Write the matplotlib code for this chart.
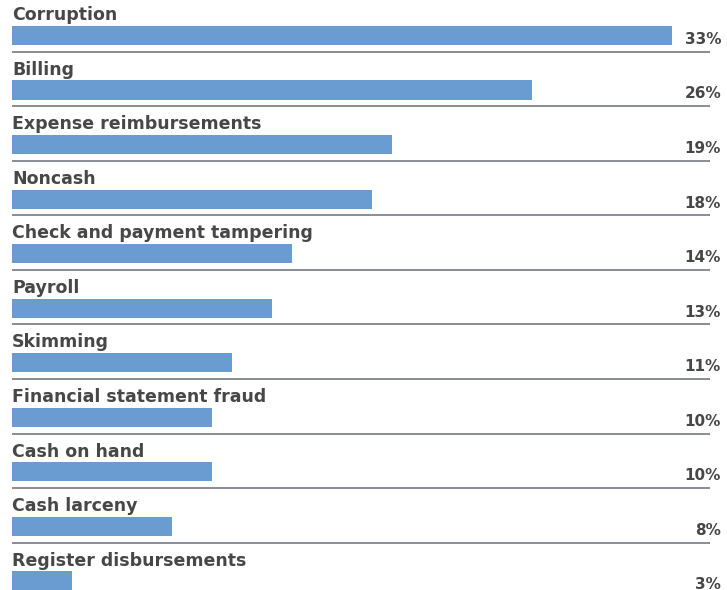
import matplotlib.pyplot as plt

categories = ['Corruption', 'Billing', 'Expense reimbursements', 'Noncash',
              'Check and payment tampering', 'Payroll', 'Skimming',
              'Financial statement fraud', 'Cash on hand', 'Cash larceny',
              'Register disbursements']
values = [33, 26, 19, 18, 14, 13, 11, 10, 10, 8, 3]

BAR_COLOR = '#6a9bd1'
TEXT_COLOR = '#474747'
LINE_COLOR = '#8a8c96'

plt.rcParams['font.family'] = ['DejaVu Sans']

fig = plt.figure(figsize=(7.27, 5.9), dpi=100)
ax = fig.add_axes([0, 0, 1, 1])

ypos = list(range(len(categories)))
ax.barh(ypos, values, height=0.35, left=0, color=BAR_COLOR)

for i, (name, v) in enumerate(zip(categories, values)):
    ax.text(0, i - 0.37, name, ha='left', va='center', fontsize=12.5,
            fontweight='bold', color=TEXT_COLOR)
    ax.text(35.45, i + 0.21, f'{v}%', ha='right', va='bottom', fontsize=11,
            fontweight='bold', color=TEXT_COLOR)
    ax.plot([0, 34.9], [i + 0.30, i + 0.30], color=LINE_COLOR, linewidth=1.4,
            solid_capstyle='butt')

ax.set_xlim(-0.6, 35.75)
ax.set_ylim(10.17, -0.651)
ax.axis('off')

fig.savefig('out.png', dpi=100)
